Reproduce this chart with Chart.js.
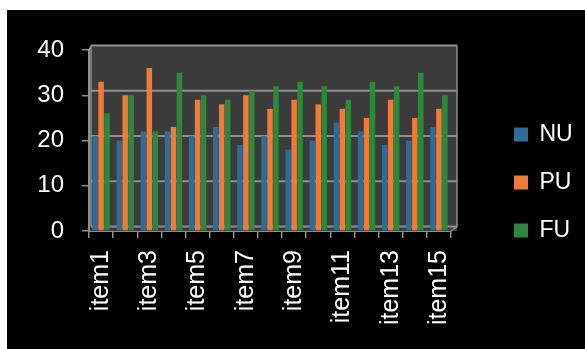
<!DOCTYPE html>
<html lang="en">
<head>
    <meta charset="UTF-8">
    <title>NU / PU / FU</title>
    <script src="https://cdn.jsdelivr.net/npm/chart.js"></script>
    <style>
        body {
            margin: 0;
            background: #ffffff;
        }
        #chart {
            position: absolute;
            left: 7px;
            top: 10px;
            background: #000000;
        }
    </style>
</head>
<body>
    <canvas id="chart" width="578" height="339"></canvas>

    <script>
        const items = ['item1', 'item2', 'item3', 'item4', 'item5', 'item6', 'item7', 'item8',
                       'item9', 'item10', 'item11', 'item12', 'item13', 'item14', 'item15'];
        const nu = [21, 20, 22, 22, 21, 23, 19, 21, 18, 20, 24, 22, 19, 20, 23];
        const pu = [33, 30, 36, 23, 29, 28, 30, 27, 29, 28, 27, 25, 29, 25, 27];
        const fu = [26, 30, 22, 35, 30, 29, 31, 32, 33, 32, 29, 33, 32, 35, 30];
        const yTicks = [0, 10, 20, 30, 40];

        const FONT = "'Liberation Sans', Arial, sans-serif";
        const AXIS_GREY = '#8f8f8f';

        // back wall of the plot: dark panel, lines lifted a few px behind the bars
        const backWall = {
            id: 'backWall',
            beforeDatasetsDraw(chart) {
                const {ctx, chartArea: a, scales: {y}} = chart;
                const dx = 6, dy = 4.5;
                ctx.save();
                ctx.fillStyle = '#3b3b3b';
                ctx.fillRect(a.left + 1, a.top - dy, a.right - a.left + dx - 1, a.bottom - a.top + dy);
                ctx.strokeStyle = AXIS_GREY;
                ctx.lineWidth = 2;
                yTicks.forEach(v => {
                    const py = y.getPixelForValue(v) - dy;
                    ctx.beginPath();
                    ctx.moveTo(a.left + 2, py);
                    ctx.lineTo(a.right + dx, py);
                    ctx.stroke();
                });
                ctx.lineWidth = 1.5;
                ctx.beginPath();
                ctx.moveTo(a.left + 2, a.bottom - dy);
                ctx.lineTo(a.left + 2, a.top - dy);
                ctx.moveTo(a.right + dx, a.top - dy);
                ctx.lineTo(a.right + dx, a.bottom - dy);
                ctx.lineTo(a.right, a.bottom);
                ctx.moveTo(a.left, a.top);
                ctx.lineTo(a.left + 2, a.top - dy);
                ctx.stroke();
                ctx.restore();
            }
        };

        // fixed legend width, then slide it out towards the right edge
        const legendPlacement = {
            id: 'legendPlacement',
            beforeLayout(chart) {
                const legend = chart.legend;
                if (legend && !legend._fixedFit) {
                    const fit = legend.fit;
                    legend.fit = function () {
                        fit.call(this);
                        this.width = 134;
                    };
                    legend._fixedFit = true;
                }
            },
            afterLayout(chart) {
                const legend = chart.legend;
                legend.left += 38;
                legend.right += 38;
                legend.top -= 17;
                legend.bottom -= 17;
            }
        };

        new Chart(document.getElementById('chart'), {
            type: 'bar',
            data: {
                labels: items,
                datasets: [
                    { label: 'NU', data: nu, backgroundColor: '#2d6d98' },
                    { label: 'PU', data: pu, backgroundColor: '#ef7a3a' },
                    { label: 'FU', data: fu, backgroundColor: '#2e873b' }
                ]
            },
            options: {
                responsive: false,
                animation: false,
                categoryPercentage: 0.74,
                barPercentage: 0.92,
                layout: { padding: { top: 40 } },
                plugins: {
                    title: { display: false },
                    tooltip: { enabled: false },
                    legend: {
                        position: 'right',
                        labels: {
                            color: '#ffffff',
                            boxWidth: 14,
                            boxHeight: 14,
                            padding: 25,
                            font: { family: FONT, size: 23 }
                        }
                    }
                },
                scales: {
                    x: {
                        afterFit: scale => { scale.height = 118; },
                        border: { color: AXIS_GREY, width: 2 },
                        grid: {
                            drawOnChartArea: false,
                            color: AXIS_GREY,
                            lineWidth: 1.5,
                            tickLength: 7
                        },
                        ticks: {
                            autoSkip: false,
                            minRotation: 90,
                            maxRotation: 90,
                            padding: 12,
                            color: '#ffffff',
                            font: { family: FONT, size: 25 },
                            callback: function (value, index) {
                                return index % 2 === 0 ? this.getLabelForValue(value) : '';
                            }
                        }
                    },
                    y: {
                        min: 0,
                        max: 40,
                        afterFit: scale => { scale.width = 82; },
                        afterBuildTicks: scale => {
                            scale.ticks = yTicks.map(v => ({ value: v }));
                        },
                        border: { color: AXIS_GREY, width: 2 },
                        grid: {
                            drawOnChartArea: false,
                            color: AXIS_GREY,
                            lineWidth: 1.5,
                            tickLength: 7
                        },
                        ticks: {
                            padding: 18,
                            color: '#ffffff',
                            font: { family: FONT, size: 24 }
                        }
                    }
                }
            },
            plugins: [backWall, legendPlacement]
        });
    </script>
</body>
</html>
